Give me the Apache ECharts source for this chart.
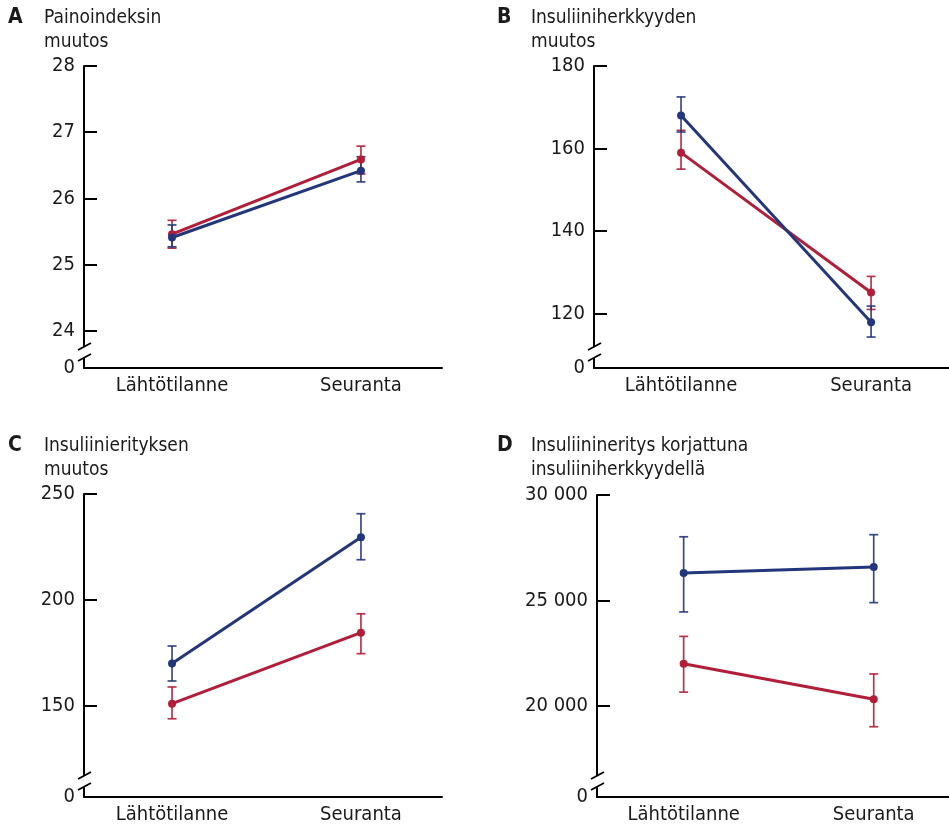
<!DOCTYPE html>
<html>
<head>
<meta charset="utf-8">
<script src="https://cdn.jsdelivr.net/npm/echarts@6/dist/echarts.min.js"></script>
<style>
html,body{margin:0;padding:0;background:#fff}
#main{width:949px;height:828px}
</style>
</head>
<body>
<div id="main"></div>
<script>
// aikapisteet
var categories = ['Lähtötilanne', 'Seuranta'];

// A painoindeksi
var ticksA = [24, 25, 26, 27, 28];
var bmiBlue = [25.41, 26.42];
var bmiBlueLow = [25.27, 26.25];
var bmiBlueHigh = [25.60, 26.63];
var bmiRed = [25.46, 26.59];
var bmiRedLow = [25.25, 26.37];
var bmiRedHigh = [25.67, 26.79];

// B insuliiniherkkyys
var ticksB = [120, 140, 160, 180];
var sensBlue = [168.0, 117.9];
var sensBlueLow = [164.0, 114.3];
var sensBlueHigh = [172.5, 121.8];
var sensRed = [159.0, 125.1];
var sensRedLow = [155.0, 121.0];
var sensRedHigh = [164.4, 129.0];

// C insuliinineritys
var ticksC = [150, 200, 250];
var secBlue = [170.1, 229.6];
var secBlueLow = [161.8, 219.0];
var secBlueHigh = [178.3, 240.7];
var secRed = [151.1, 184.6];
var secRedLow = [144.0, 174.7];
var secRedHigh = [159.0, 193.5];

// D insuliinineritys korjattuna
var ticksD = [20000, 25000, 30000];
var dispBlue = [26300, 26590];
var dispBlueLow = [24460, 24900];
var dispBlueHigh = [28020, 28120];
var dispRed = [22000, 20320];
var dispRedLow = [20660, 19020];
var dispRedHigh = [23300, 21520];

var BLUE = '#24367b';
var RED = '#b11e39';
var INK = '#1a1a1a';
var FONT = "'DejaVu Sans Condensed', 'Liberation Sans Narrow', sans-serif";

var panels = [
  {letter: 'A', title: 'Painoindeksin\nmuutos', lx: 8, tx: 44, ty: 6,
   grid: {left: 84, top: 66, width: 358, height: 302}, xMin: -0.466, xMax: 1.429, yMin: 23.44, yMax: 28,
   ticks: ticksA, blue: [bmiBlue, bmiBlueLow, bmiBlueHigh], red: [bmiRed, bmiRedLow, bmiRedHigh]},
  {letter: 'B', title: 'Insuliiniherkkyyden\nmuutos', lx: 497, tx: 531, ty: 6,
   grid: {left: 594, top: 66, width: 355, height: 302}, xMin: -0.458, xMax: 1.41, yMin: 106.8, yMax: 180,
   ticks: ticksB, blue: [sensBlue, sensBlueLow, sensBlueHigh], red: [sensRed, sensRedLow, sensRedHigh]},
  {letter: 'C', title: 'Insuliinierityksen\nmuutos', lx: 8, tx: 44, ty: 434,
   grid: {left: 84, top: 494, width: 358, height: 303}, xMin: -0.466, xMax: 1.429, yMin: 107.1, yMax: 250,
   ticks: ticksC, blue: [secBlue, secBlueLow, secBlueHigh], red: [secRed, secRedLow, secRedHigh]},
  {letter: 'D', title: 'Insuliinineritys korjattuna\ninsuliiniherkkyydellä', lx: 497, tx: 531, ty: 434,
   grid: {left: 597, top: 495, width: 352, height: 302}, xMin: -0.456, xMax: 1.396, yMin: 15690, yMax: 30000,
   ticks: ticksD, blue: [dispBlue, dispBlueLow, dispBlueHigh], red: [dispRed, dispRedLow, dispRedHigh]}
];

function fmtNum(v) {
  var s = String(Math.round(v));
  if (v >= 10000) s = s.slice(0, s.length - 3) + ' ' + s.slice(s.length - 3);
  return s;
}

function errorBars(color) {
  return function (params, api) {
    var x = api.value(0);
    var lo = api.coord([x, api.value(1)]);
    var hi = api.coord([x, api.value(2)]);
    var w = 4.5;
    var st = {stroke: color, lineWidth: 1.7, opacity: 0.9};
    return {type: 'group', children: [
      {type: 'line', shape: {x1: lo[0], y1: lo[1], x2: hi[0], y2: hi[1]}, style: st},
      {type: 'line', shape: {x1: lo[0] - w, y1: lo[1], x2: lo[0] + w, y2: lo[1]}, style: st},
      {type: 'line', shape: {x1: hi[0] - w, y1: hi[1], x2: hi[0] + w, y2: hi[1]}, style: st}
    ]};
  };
}

// akselin katkos
function axisBreak(params, api) {
  var c = api.coord([api.value(0), api.value(1)]);
  var x = c[0], y = c[1];
  var st = {stroke: '#000', lineWidth: 1.8};
  return {type: 'group', children: [
    {type: 'rect', shape: {x: x - 3, y: y - 21, width: 6, height: 11}, style: {fill: '#fff'}},
    {type: 'line', shape: {x1: x - 6, y1: y - 18, x2: x + 7, y2: y - 25}, style: st},
    {type: 'line', shape: {x1: x - 6, y1: y - 7, x2: x + 7, y2: y - 14}, style: st}
  ]};
}

var option = {
  backgroundColor: '#fff',
  animation: false,
  title: [], grid: [], xAxis: [], yAxis: [], series: []
};

panels.forEach(function (p, i) {
  option.title.push({left: p.lx, top: p.ty, padding: 0, text: p.letter,
    textStyle: {fontFamily: FONT, fontSize: 21, fontWeight: 'bold', color: INK, lineHeight: 24}});
  option.title.push({left: p.tx, top: p.ty, padding: 0, text: p.title,
    textStyle: {fontFamily: FONT, fontSize: 19, fontWeight: 'normal', color: INK, lineHeight: 24}});
  option.grid.push(p.grid);
  option.xAxis.push({
    type: 'value', gridIndex: i, min: p.xMin, max: p.xMax,
    splitLine: {show: false},
    axisLine: {onZero: false, lineStyle: {color: '#000', width: 2}},
    axisTick: {show: false},
    axisLabel: {customValues: [0, 1], margin: 8, color: INK, fontFamily: FONT, fontSize: 20,
      formatter: function (v) { return categories[Math.round(v)]; }}
  });
  var yMin = p.yMin;
  option.yAxis.push({
    type: 'value', gridIndex: i, min: p.yMin, max: p.yMax,
    splitLine: {show: false},
    axisLine: {show: true, onZero: false, lineStyle: {color: '#000', width: 2}},
    axisTick: {show: true, inside: true, length: 13, customValues: p.ticks, lineStyle: {color: '#000', width: 2}},
    axisLabel: {customValues: [p.yMin].concat(p.ticks), margin: 9, color: INK, fontFamily: FONT, fontSize: 20,
      formatter: function (v) { return Math.abs(v - yMin) < 1e-6 ? '0' : fmtNum(v); }}
  });
  [['red', RED], ['blue', BLUE]].forEach(function (s) {
    var d = p[s[0]];
    option.series.push({
      type: 'custom', xAxisIndex: i, yAxisIndex: i, renderItem: errorBars(s[1]),
      encode: {x: 0, y: [1, 2]},
      data: [[0, d[1][0], d[2][0]], [1, d[1][1], d[2][1]]]
    });
  });
  [['red', RED], ['blue', BLUE]].forEach(function (s) {
    var d = p[s[0]];
    option.series.push({
      type: 'line', xAxisIndex: i, yAxisIndex: i, symbol: 'circle', symbolSize: 8,
      lineStyle: {color: s[1], width: 3}, itemStyle: {color: s[1]},
      data: [[0, d[0][0]], [1, d[0][1]]]
    });
  });
  option.series.push({
    type: 'custom', xAxisIndex: i, yAxisIndex: i, renderItem: axisBreak, clip: false, z: 5,
    data: [[p.xMin, p.yMin]]
  });
});

var chart = echarts.init(document.getElementById('main'));
chart.setOption(option);
</script>
</body>
</html>
